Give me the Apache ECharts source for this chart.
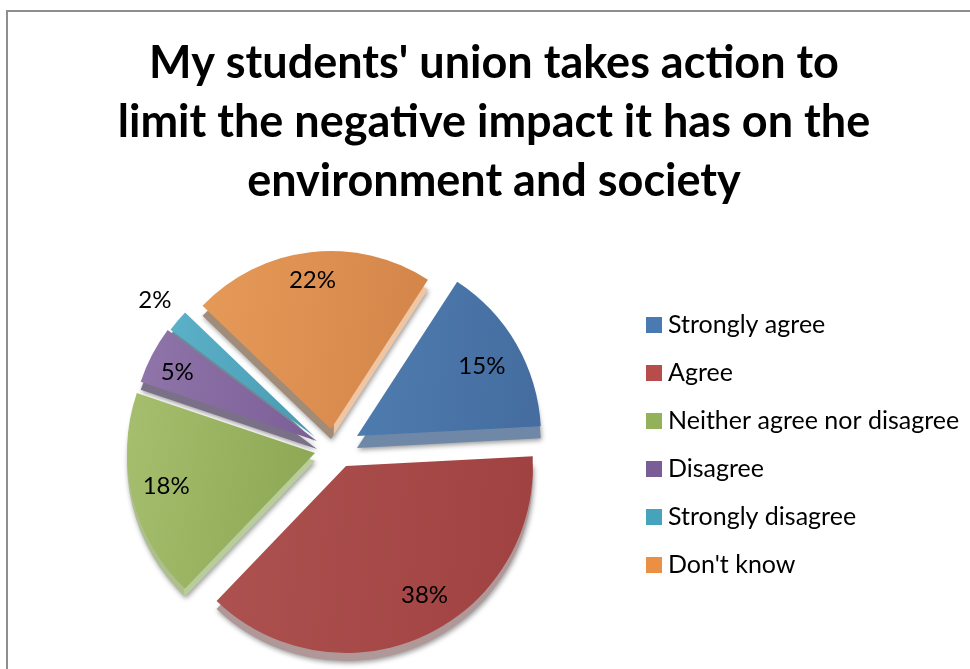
<!DOCTYPE html>
<html><head><meta charset="utf-8">
<style>html,body{margin:0;padding:0;background:#fff}#c{width:970px;height:669px}</style>
<script src="https://cdn.jsdelivr.net/npm/echarts@6/dist/echarts.min.js"></script>
</head><body><div id="c"></div>
<script>
const titleText = "My students' union takes action to\nlimit the negative impact it has on the\nenvironment and society";
const categories = ["Strongly agree","Agree","Neither agree nor disagree","Disagree","Strongly disagree","Don't know"];
const values = [15,38,18,5,2,22];
const legendColors = ["#4A7AB2","#B84C4A","#93B05A","#7A5C96","#46A3BC","#EB8F45"];
const topLeft  = ["#4F7DB0","#AD5250","#A6BF6E","#8F75AA","#5BB1C8","#E69A58"];
const topRight = ["#456DA0","#A04241","#8EA856","#7C5F97","#4A9CB4","#D4864A"];
const rimLeft  = ["#6F88A8","#B09898","#AEBF8E","#7A7088","#6A8C98","#A08C78"];
const rimRight = ["#6F88A8","#B09898","#B8CC9C","#7A7088","#6A8C98","#EEC6A4"];
const rimSplits = [.5,.5,.3,.5,.5,.58];
const centers = [[357,436],[346,466],[315,453],[317,441],[315,437],[331,429]];
const radii = [184,187,188,186,180,178];
const depths = [12,8,8,8,5,10];
const labelFractions = [.78,.8,.81,.85,1.17,.84];
const labelNudges = [[-2,4],[15,-9],[2,-4],[3,6],[3,1],[-1,3]];
const startFromTop = 33;

const total = values.reduce((a,b)=>a+b,0);
const series = [];
let acc = startFromTop;
values.forEach((v,i)=>{
  const span = v/total*360;
  const sa = 90-acc, ea = sa-span;
  const midRad = (acc+span/2)*Math.PI/180;
  const base = {type:'pie',radius:[0,radii[i]],startAngle:sa,endAngle:ea,clockwise:true,silent:true,animation:false,labelLine:{show:false}};
  series.push(Object.assign({},base,{
    z:1,center:[centers[i][0],centers[i][1]+depths[i]],
    label:{show:false},
    data:[{name:categories[i],value:v,itemStyle:{
      color:{type:'linear',x:0,y:0,x2:1,y2:0,colorStops:[{offset:0,color:rimLeft[i]},{offset:rimSplits[i],color:rimLeft[i]},{offset:rimSplits[i]+.005,color:rimRight[i]},{offset:1,color:rimRight[i]}]},
      shadowColor:'rgba(0,0,0,.4)',shadowBlur:5,shadowOffsetX:1,shadowOffsetY:2}}]
  }));
  const off = (labelFractions[i]-.5)*radii[i];
  series.push(Object.assign({},base,{
    z:2,center:centers[i],
    label:{show:true,position:'inside',formatter:'{c}%',fontFamily:'Lato',fontSize:24,color:'#000'},
    labelLayout:{dx:off*Math.sin(midRad)+labelNudges[i][0],dy:-off*Math.cos(midRad)+labelNudges[i][1]},
    data:[{name:categories[i],value:v,itemStyle:{
      color:{type:'linear',x:0,y:0,x2:1,y2:.15,colorStops:[{offset:0,color:topLeft[i]},{offset:1,color:topRight[i]}]}}}]
  }));
  acc += span;
});

const chart = echarts.init(document.getElementById('c'),null,{renderer:'canvas'});
chart.setOption({
  backgroundColor:'#fff',animation:false,
  title:{text:titleText,left:489,top:29,textAlign:'center',
    textStyle:{fontFamily:'Lato',fontWeight:'bold',fontSize:45,lineHeight:59,color:'#000'}},
  legend:{orient:'vertical',left:646,top:311,padding:0,itemWidth:16,itemHeight:16,itemGap:20,icon:'rect',selectedMode:false,
    textStyle:{fontFamily:'Lato',fontSize:25,color:'#000',padding:[0,0,0,1],height:28,lineHeight:28},
    data:categories.map((n,i)=>({name:n,itemStyle:{color:legendColors[i]}}))},
  graphic:[{type:'rect',silent:true,z:-1,shape:{x:7,y:11,width:1100,height:800},style:{fill:'none',stroke:'#8E8E8E',lineWidth:2}}],
  series
});
</script></body></html>
